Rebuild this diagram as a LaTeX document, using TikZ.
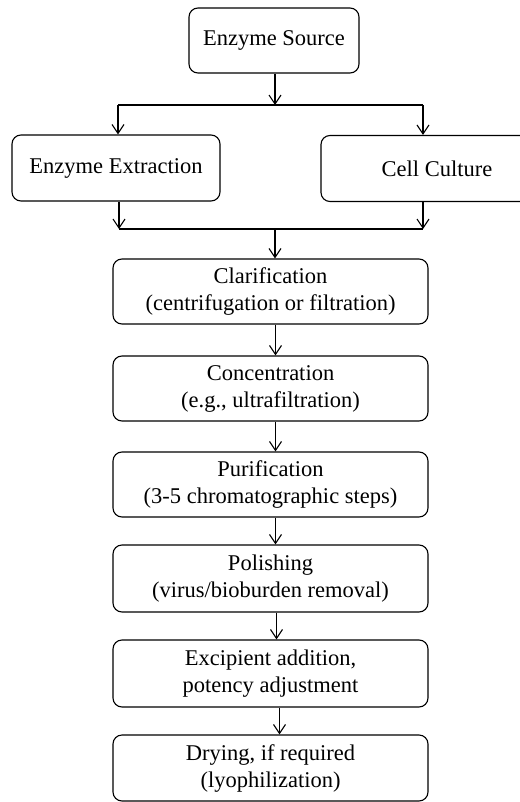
\documentclass[tikz,border=0pt]{standalone}
\usepackage{fontspec}
\setmainfont{Liberation Serif}
\usetikzlibrary{arrows.meta}
\tikzset{
  stepbox/.style={draw, line width=1.1pt, rounded corners=9pt, align=center,
    font=\fontsize{22.5}{27}\selectfont, inner sep=0pt},
  flow/.style={line width=1.1pt, -{Straight Barb[length=9pt,width=12pt,line width=1.1pt]}}
}
\begin{document}
\begin{tikzpicture}[x=1pt,y=-1pt]
      \useasboundingbox (0,0) rectangle (519,802);
      % Source and the two routes
      \node[stepbox, minimum width=170, minimum height=65] (source) at (274,40.5) {Enzyme Source};
      \node[stepbox, minimum width=208, minimum height=66] (extract) at (116,168) {Enzyme Extraction};
      \node[stepbox, minimum width=232, minimum height=66] (culture) at (437,168.5) {Cell Culture};
      % Processing steps
      \node[stepbox, minimum width=315, minimum height=65] (clar) at (270.5,291.5) {Clarification\\(centrifugation or filtration)};
      \node[stepbox, minimum width=315, minimum height=65] (conc) at (270.5,388.5) {Concentration\\(e.g., ultrafiltration)};
      \node[stepbox, minimum width=315, minimum height=65] (purif) at (270.5,484.5) {Purification\\(3-5 chromatographic steps)};
      \node[stepbox, minimum width=315, minimum height=67] (polish) at (270.5,578.5) {Polishing\\(virus/bioburden removal)};
      \node[stepbox, minimum width=315, minimum height=67] (excip) at (270.5,673.5) {Excipient addition,\\potency adjustment};
      \node[stepbox, minimum width=315, minimum height=66] (dry) at (270.5,768) {Drying, if required\\(lyophilization)};
      % Split
      \coordinate (split) at (275,105);
      \coordinate (cultin) at (423,105);
      \draw[flow] (source.south -| split) -- (split);
      \draw[line width=1.1pt] ([xshift=2pt]extract.north |- split) -- (cultin);
      \draw[flow] ([xshift=2pt]extract.north |- split) -- ([xshift=2pt]extract.north);
      \draw[flow] (cultin) -- (culture.north -| cultin);
      % Merge
      \coordinate (merge) at (275,229);
      \draw[flow] ([xshift=3pt]extract.south) -- ([xshift=3pt]extract.south |- merge);
      \draw[flow] (culture.south -| cultin) -- (cultin |- merge);
      \draw[line width=1.1pt] ([xshift=3pt]extract.south |- merge) -- (cultin |- merge);
      \draw[flow] (merge) -- (clar.north -| merge);
      % Steps
      \draw[flow] ([xshift=5pt]clar.south) -- ([xshift=5pt]conc.north);
      \draw[flow] ([xshift=5pt]conc.south) -- ([xshift=5pt]purif.north);
      \draw[flow] ([xshift=5pt]purif.south) -- ([xshift=5pt]polish.north);
      \draw[flow] ([xshift=6pt]polish.south) -- ([xshift=6pt]excip.north);
      \draw[flow] ([xshift=9pt]excip.south) -- ([xshift=9pt]dry.north);
    \end{tikzpicture}
\end{document}
